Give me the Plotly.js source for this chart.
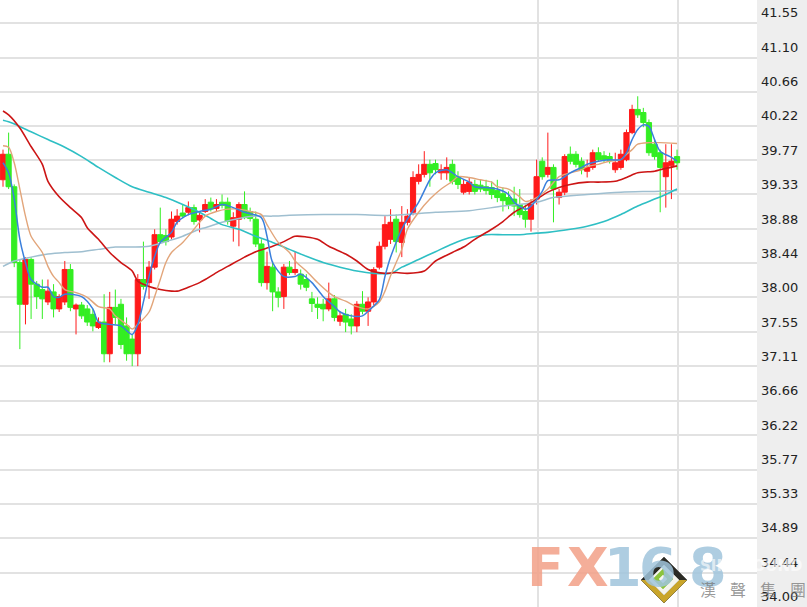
<!DOCTYPE html>
<html><head><meta charset="utf-8">
<script src="https://cdn.plot.ly/plotly-3.0.1.min.js"></script>
<style>html,body{margin:0;padding:0;background:#fff;overflow:hidden}#chart{width:807px;height:607px}</style>
</head><body><div id="chart"></div>
<script>
// ---- candle data (index = bar number) ----
const open = [39.52,39.85,39.43,38.45,37.91,38.49,38.17,38.10,37.94,38.07,
37.85,37.94,38.36,37.85,37.90,37.85,37.78,37.61,37.68,37.27,
37.87,37.91,37.63,37.46,37.27,38.23,38.19,38.39,38.81,38.80,
38.78,38.98,39.09,39.10,39.16,39.00,39.11,39.23,39.15,39.23,
39.23,38.92,39.01,39.20,39.11,39.01,38.69,38.19,38.39,38.07,
38.01,38.39,38.32,38.30,38.23,37.98,37.91,37.91,37.85,37.98,
37.69,37.78,37.72,37.63,37.91,37.82,37.94,38.39,38.66,38.75,
39.01,38.71,38.97,39.10,39.50,39.59,39.72,39.73,39.61,39.61,
39.72,39.56,39.36,39.37,39.46,39.45,39.43,39.42,39.38,39.34,
39.29,39.27,39.20,39.11,39.01,39.27,39.76,39.59,39.68,39.29,
39.36,39.85,39.85,39.76,39.63,39.68,39.87,39.83,39.82,39.65,
39.68,39.78,40.13,40.43,40.39,40.26,39.98,39.87,39.56,39.70,
39.82];
const high = [39.91,40.13,39.46,38.49,38.52,38.52,38.21,38.23,38.23,38.17,
38.04,38.47,38.43,37.92,37.94,37.90,37.85,37.74,38.04,38.07,
38.10,37.98,37.74,37.52,38.30,38.72,38.47,38.88,39.16,38.88,
39.11,39.14,39.20,39.24,39.20,39.11,39.27,39.29,39.27,39.33,
39.29,39.10,39.23,39.37,39.16,39.11,38.75,38.59,38.47,38.13,
38.43,38.47,38.59,38.36,38.30,38.07,38.00,37.98,38.19,38.03,
37.82,37.85,37.78,37.95,38.08,38.00,38.39,38.72,39.05,39.14,
39.07,39.18,39.14,39.63,39.72,39.89,39.78,39.78,39.72,39.81,
39.78,39.63,39.52,39.55,39.52,39.52,39.52,39.50,39.52,39.42,
39.37,39.43,39.40,39.20,39.27,39.78,39.81,40.13,39.72,39.40,
39.85,39.95,39.89,39.81,39.78,39.91,39.94,39.89,39.87,39.87,
39.91,40.17,40.49,40.60,40.45,40.30,40.04,39.91,39.98,39.98,
39.91];
const low = [39.43,39.40,38.39,37.33,37.65,37.72,37.85,37.72,37.90,37.74,
37.81,37.90,37.82,37.52,37.72,37.63,37.56,37.59,37.16,37.16,
37.65,37.33,37.18,37.11,37.11,38.10,37.98,38.36,38.69,38.67,
38.75,38.94,39.02,39.06,38.94,38.84,39.09,39.11,39.11,39.15,
38.94,38.72,38.66,39.01,38.98,38.65,38.14,38.10,37.82,37.87,
37.85,38.29,38.29,38.10,38.08,37.81,37.72,37.69,37.82,37.69,
37.63,37.55,37.52,37.55,37.78,37.63,37.90,38.36,38.62,38.69,
38.58,38.52,38.93,39.06,39.46,39.55,39.43,39.59,39.52,39.52,
39.46,39.40,39.33,39.33,39.33,39.36,39.33,39.27,39.23,39.11,
39.14,39.05,39.03,38.90,38.85,39.20,39.52,39.55,38.97,39.20,
39.32,39.72,39.68,39.59,39.55,39.65,39.76,39.74,39.73,39.61,
39.65,39.76,40.11,40.32,40.20,39.83,39.78,39.10,39.16,39.27,
39.65];
const close = [39.85,39.43,38.45,37.91,38.49,38.17,38.01,37.98,38.08,37.85,
38.01,38.36,37.87,37.90,37.76,37.68,37.63,37.68,37.27,37.87,
37.74,37.39,37.27,37.27,38.23,38.14,38.39,38.81,38.72,38.72,
39.01,39.05,39.05,39.16,38.98,39.06,39.20,39.14,39.20,39.19,
38.98,39.03,39.20,39.03,39.02,38.69,38.19,38.40,38.07,38.00,
38.39,38.32,38.36,38.17,38.13,37.92,37.87,37.85,37.98,37.74,
37.76,37.68,37.63,37.91,37.82,37.94,38.36,38.66,38.94,38.97,
38.72,38.97,39.05,39.55,39.59,39.72,39.61,39.65,39.65,39.68,
39.50,39.46,39.46,39.49,39.37,39.40,39.38,39.33,39.29,39.25,
39.20,39.18,39.07,39.01,39.20,39.56,39.56,39.68,39.40,39.36,
39.82,39.76,39.72,39.65,39.68,39.87,39.78,39.78,39.77,39.74,
39.85,40.13,40.43,40.36,40.26,39.87,39.82,39.68,39.74,39.76,
39.74];

// ---- moving averages (bar number, value) ----
const ma5Idx = [0,1,2,3,4,5,7,8,9,10,11,14,16,17,19,21,23,24,25,26,27,28,30,31,33,35,37,39,41,43,46,47,48,50,52,53,55,57,59,60,62,64,65,67,68,69,71,72,74,76,77,79,81,83,84,86,88,90,91,93,94,96,97,99,101,103,104,106,108,110,111,112,113,114,115,116,117,119,120];
const ma5Val = [39.74,39.61,39.27,38.75,38.45,38.23,38.13,38.13,38.01,38.00,38.04,38.01,37.85,37.68,37.65,37.63,37.52,37.65,37.94,38.27,38.53,38.71,38.84,38.97,39.07,39.11,39.14,39.20,39.16,39.10,39.03,38.79,38.45,38.27,38.27,38.30,38.19,38.01,37.88,37.81,37.76,37.76,37.82,37.97,38.27,38.52,38.88,39.01,39.23,39.52,39.61,39.65,39.56,39.49,39.43,39.42,39.40,39.33,39.23,39.14,39.18,39.37,39.51,39.52,39.61,39.68,39.72,39.76,39.78,39.78,39.87,40.04,40.17,40.23,40.21,40.04,39.89,39.81,39.76];

const ma10Idx = [0,1,2,3,4,5,7,8,9,10,11,13,15,17,19,20,22,23,24,26,27,28,29,30,32,34,35,36,38,40,42,44,46,47,49,51,52,54,56,58,59,61,63,65,67,68,69,70,71,72,74,76,78,80,81,83,85,87,88,90,92,93,95,97,99,101,103,104,106,108,110,111,112,113,115,116,117,120];
const ma10Val = [39.96,39.94,39.74,39.40,39.05,38.79,38.58,38.40,38.27,38.19,38.10,38.06,38.00,37.88,37.85,37.76,37.65,37.59,37.65,37.81,38.01,38.23,38.45,38.58,38.71,38.88,38.97,39.05,39.11,39.14,39.14,39.11,39.07,38.94,38.71,38.58,38.47,38.34,38.19,38.06,38.01,37.95,37.88,37.85,37.94,38.08,38.28,38.45,38.62,38.88,39.10,39.27,39.40,39.50,39.56,39.55,39.52,39.49,39.43,39.40,39.30,39.24,39.29,39.40,39.56,39.61,39.65,39.69,39.72,39.76,39.78,39.85,39.91,39.98,40.00,40.00,40.00,39.99];

const ma30Idx = [0,1,3,5,7,8,10,12,14,15,17,19,21,23,24,26,28,30,31,33,35,36,38,40,43,45,48,50,52,54,56,58,61,63,65,68,70,72,75,77,80,82,84,87,89,91,93,95,97,99,101,104,106,109,111,113,116,117,120];
const ma30Val = [40.41,40.36,40.19,39.95,39.72,39.50,39.30,39.16,39.03,38.90,38.75,38.58,38.45,38.34,38.21,38.14,38.10,38.08,38.08,38.13,38.19,38.23,38.32,38.40,38.52,38.59,38.66,38.72,38.79,38.78,38.75,38.66,38.56,38.47,38.36,38.31,38.32,38.31,38.34,38.47,38.58,38.65,38.75,38.88,38.98,39.10,39.18,39.27,39.36,39.42,39.46,39.49,39.49,39.50,39.55,39.61,39.63,39.65,39.70];

const ma60Idx = [0,1,3,5,8,11,14,17,20,23,26,29,32,35,37,39,42,45,48,51,54,57,60,63,66,69,71,74,77,80,83,86,89,92,95,97,101,104,107,110,113,116,118,120];
const ma60Val = [40.29,40.27,40.21,40.14,40.04,39.94,39.82,39.68,39.55,39.43,39.36,39.29,39.20,39.10,39.02,38.94,38.88,38.79,38.71,38.62,38.53,38.45,38.39,38.34,38.31,38.31,38.39,38.49,38.59,38.69,38.77,38.81,38.81,38.81,38.83,38.84,38.88,38.92,38.98,39.07,39.18,39.27,39.33,39.40];

const ma120Idx = [0,2,5,8,11,14,17,20,23,26,29,32,35,36,39,42,45,48,51,57,63,69,77,83,89,95,98,104,110,116,120];
const ma120Val = [38.40,38.47,38.52,38.56,38.58,38.59,38.62,38.65,38.65,38.66,38.72,38.79,38.88,38.90,38.97,39.02,39.05,39.05,39.06,39.07,39.07,39.06,39.10,39.12,39.18,39.23,39.29,39.33,39.36,39.37,39.38];

// ---- axis tick labels ----
const yTickLabels = ['34.00','34.44','34.89','35.33','35.77','36.22','36.66','37.11','37.55','38.00','38.44','38.88','39.33','39.77','40.22','40.66','41.10','41.55'];

// ---- layout helpers (pixel geometry of the 807x607 canvas) ----
const W = 807, H = 607, PLOT_W = 757;
const barIdx = open.map((_, i) => i);
const pxToBar = p => (p - 3) / 5.617;
const px = x => x / PLOT_W;
const py = y => 1 - y / H;

function maTrace(xs, ys, color, width) {
  return {type: 'scatter', mode: 'lines', x: xs, y: ys, hoverinfo: 'skip',
          line: {color: color, width: width, shape: 'spline', smoothing: 0.8}, showlegend: false};
}

const traces = [
  {type: 'candlestick', x: barIdx, open: open, high: high, low: low, close: close,
   increasing: {line: {color: '#ff1a1a', width: 1}, fillcolor: '#ff1a1a'},
   decreasing: {line: {color: '#33ee22', width: 1}, fillcolor: '#33ee22'},
   whiskerwidth: 0, showlegend: false, hoverinfo: 'skip'},
  maTrace(ma120Idx, ma120Val, '#9fbfd0', 1.5),
  maTrace(ma60Idx, ma60Val, '#2ebfc4', 1.6),
  maTrace(ma30Idx, ma30Val, '#cc1515', 1.6),
  maTrace(ma10Idx, ma10Val, '#e2a57a', 1.4),
  maTrace(ma5Idx, ma5Val, '#3a7fdc', 1.5)
];

// watermark characters
const wmFont = 'DejaVu Sans, Verdana, sans-serif';
const logoChars = [
  {t: 'F', x: 545, c: 'rgba(242,160,135,0.85)'},
  {t: 'X', x: 588, c: 'rgba(242,160,135,0.85)'},
  {t: '1', x: 623, c: 'rgba(160,196,220,0.85)'},
  {t: '6', x: 658, c: 'rgba(160,196,220,0.85)'},
  {t: '8', x: 708, c: 'rgba(160,196,220,0.85)'}
];
const annotations = logoChars.map(ch => ({
  xref: 'paper', yref: 'paper', x: px(ch.x), y: py(567), xanchor: 'center', yanchor: 'middle',
  text: '<b>' + ch.t + '</b>', showarrow: false, font: {family: wmFont, size: 54, color: ch.c}
}));
annotations.push({xref: 'paper', yref: 'paper', x: px(751), y: py(566), xanchor: 'center', yanchor: 'middle',
  text: '<b>SINOSOUND</b>', showarrow: false, font: {family: wmFont, size: 15, color: 'rgba(255,255,255,0.6)'}});
['漢','聲','集','團'].forEach((c, i) => annotations.push({
  xref: 'paper', yref: 'paper', x: px(708 + i * 30), y: py(589), xanchor: 'center', yanchor: 'middle',
  text: c, showarrow: false, font: {family: 'Noto Sans CJK TC, sans-serif', size: 16, color: 'rgba(120,120,120,0.75)'}}));

function diamond(cx, cy, r, fill) {
  return {type: 'path', xref: 'paper', yref: 'paper', xsizemode: 'pixel', ysizemode: 'pixel',
    xanchor: px(cx), yanchor: py(cy), layer: 'above',
    path: `M 0 ${r} L ${r} 0 L 0 ${-r} L ${-r} 0 Z`,
    fillcolor: fill, line: {color: fill, width: 0.5}};
}
const shapes = [
  diamond(664, 580, 23, '#2a2a24'),
  {type: 'path', xref: 'paper', yref: 'paper', xsizemode: 'pixel', ysizemode: 'pixel',
   xanchor: px(664), yanchor: py(580), layer: 'above',
   path: 'M 23 0 L 0 -23 L -23 0 L -15 0 L 0 -15 L 15 0 Z', fillcolor: '#c9a52a', line: {width: 0}},
  diamond(664, 580, 15, '#f4f4ec'),
  diamond(663, 579, 10, '#8cc43c'),
  diamond(663, 579, 4, '#f7f7ef')
];

const layout = {
  width: W, height: H,
  margin: {l: 0, r: W - PLOT_W, t: 0, b: 0, pad: 0},
  paper_bgcolor: '#eeeeee', plot_bgcolor: '#ffffff',
  showlegend: false, hovermode: false, dragmode: false,
  boxgap: 0.08, boxgroupgap: 0,
  xaxis: {type: 'linear', range: [pxToBar(0), pxToBar(PLOT_W)], fixedrange: true,
          rangeslider: {visible: false}, showticklabels: false, ticks: '',
          tickmode: 'array', tickvals: [pxToBar(538), pxToBar(678)],
          showgrid: true, gridcolor: '#e2e2e2', gridwidth: 2, zeroline: false, showline: false},
  yaxis: {side: 'right', range: [33.995, 41.845], fixedrange: true,
          tickmode: 'array', tickvals: yTickLabels.map(Number), ticktext: yTickLabels,
          ticks: '', ticklabelshift: -10, ticklabelstandoff: 3, ticklabeloverflow: 'allow',
          tickfont: {family: wmFont, size: 13, color: '#222222'},
          showgrid: true, gridcolor: '#e2e2e2', gridwidth: 2, zeroline: false, showline: false},
  annotations: annotations,
  shapes: shapes
};

Plotly.newPlot('chart', traces, layout, {staticPlot: true, displayModeBar: false});
</script>
</body></html>
